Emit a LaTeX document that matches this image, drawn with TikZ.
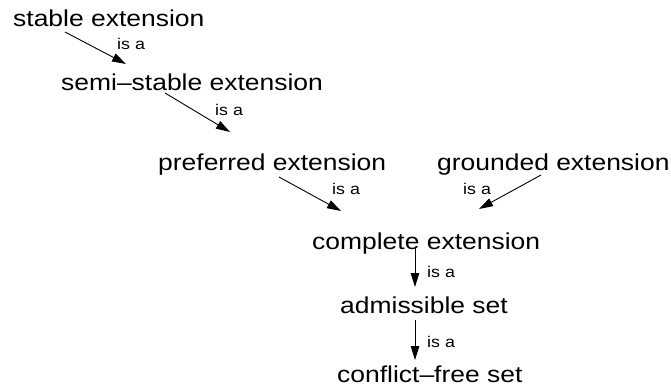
\documentclass[tikz,border=0pt]{standalone}
\usepackage{fontspec}
\setmainfont{Liberation Sans}[FakeStretch=1.15]
\usetikzlibrary{arrows.meta}
\begin{document}
\begin{tikzpicture}[x=1pt,y=-1pt,
  concept/.style={anchor=base west,inner sep=0pt,font=\fontsize{23}{27}\selectfont},
  rel/.style={anchor=base west,inner sep=0pt,font=\fontsize{15.5}{18}\selectfont},
  isa/.style={-{Triangle[length=14pt,width=8.5pt]},line width=0.9pt}]
\useasboundingbox (0,0) rectangle (671,390);
% concepts
\node[concept] (stable)    at (13,27)  {stable extension};
\node[concept] (semi)      at (61,91)  {semi--stable extension};
\node[concept] (preferred) at (158,171) {preferred extension};
\node[concept] (grounded)  at (437,171) {grounded extension};
\node[concept] (complete)  at (312,249) {complete extension};
\node[concept] (admiss)    at (340,313) {admissible set};
\node[concept] (cfree)     at (337,382) {conflict--free set};
% relation labels
\node[rel] (l1) at (117,50)  {is a};
\node[rel] (l2) at (215,116) {is a};
\node[rel] (l3) at (332,194) {is a};
\node[rel] (l4) at (463,194) {is a};
\node[rel] (l5) at (427,277) {is a};
\node[rel] (l6) at (427,347) {is a};
% arrow end points
\coordinate (s1) at (65,32);   \coordinate (e1) at (126,64);
\coordinate (s2) at (165,93);  \coordinate (e2) at (230,132);
\coordinate (s3) at (279,177); \coordinate (e3) at (341,211);
\coordinate (s4) at (541,175); \coordinate (e4) at (479,209);
\coordinate (s5) at (415,247); \coordinate (e5) at (415,287);
\coordinate (s6) at (415,320); \coordinate (e6) at (415,360);
\draw[isa] (s1) -- (e1);
\draw[isa] (s2) -- (e2);
\draw[isa] (s3) -- (e3);
\draw[isa] (s4) -- (e4);
\draw[isa] (s5) -- (e5);
\draw[isa] (s6) -- (e6);
\end{tikzpicture}
\end{document}
